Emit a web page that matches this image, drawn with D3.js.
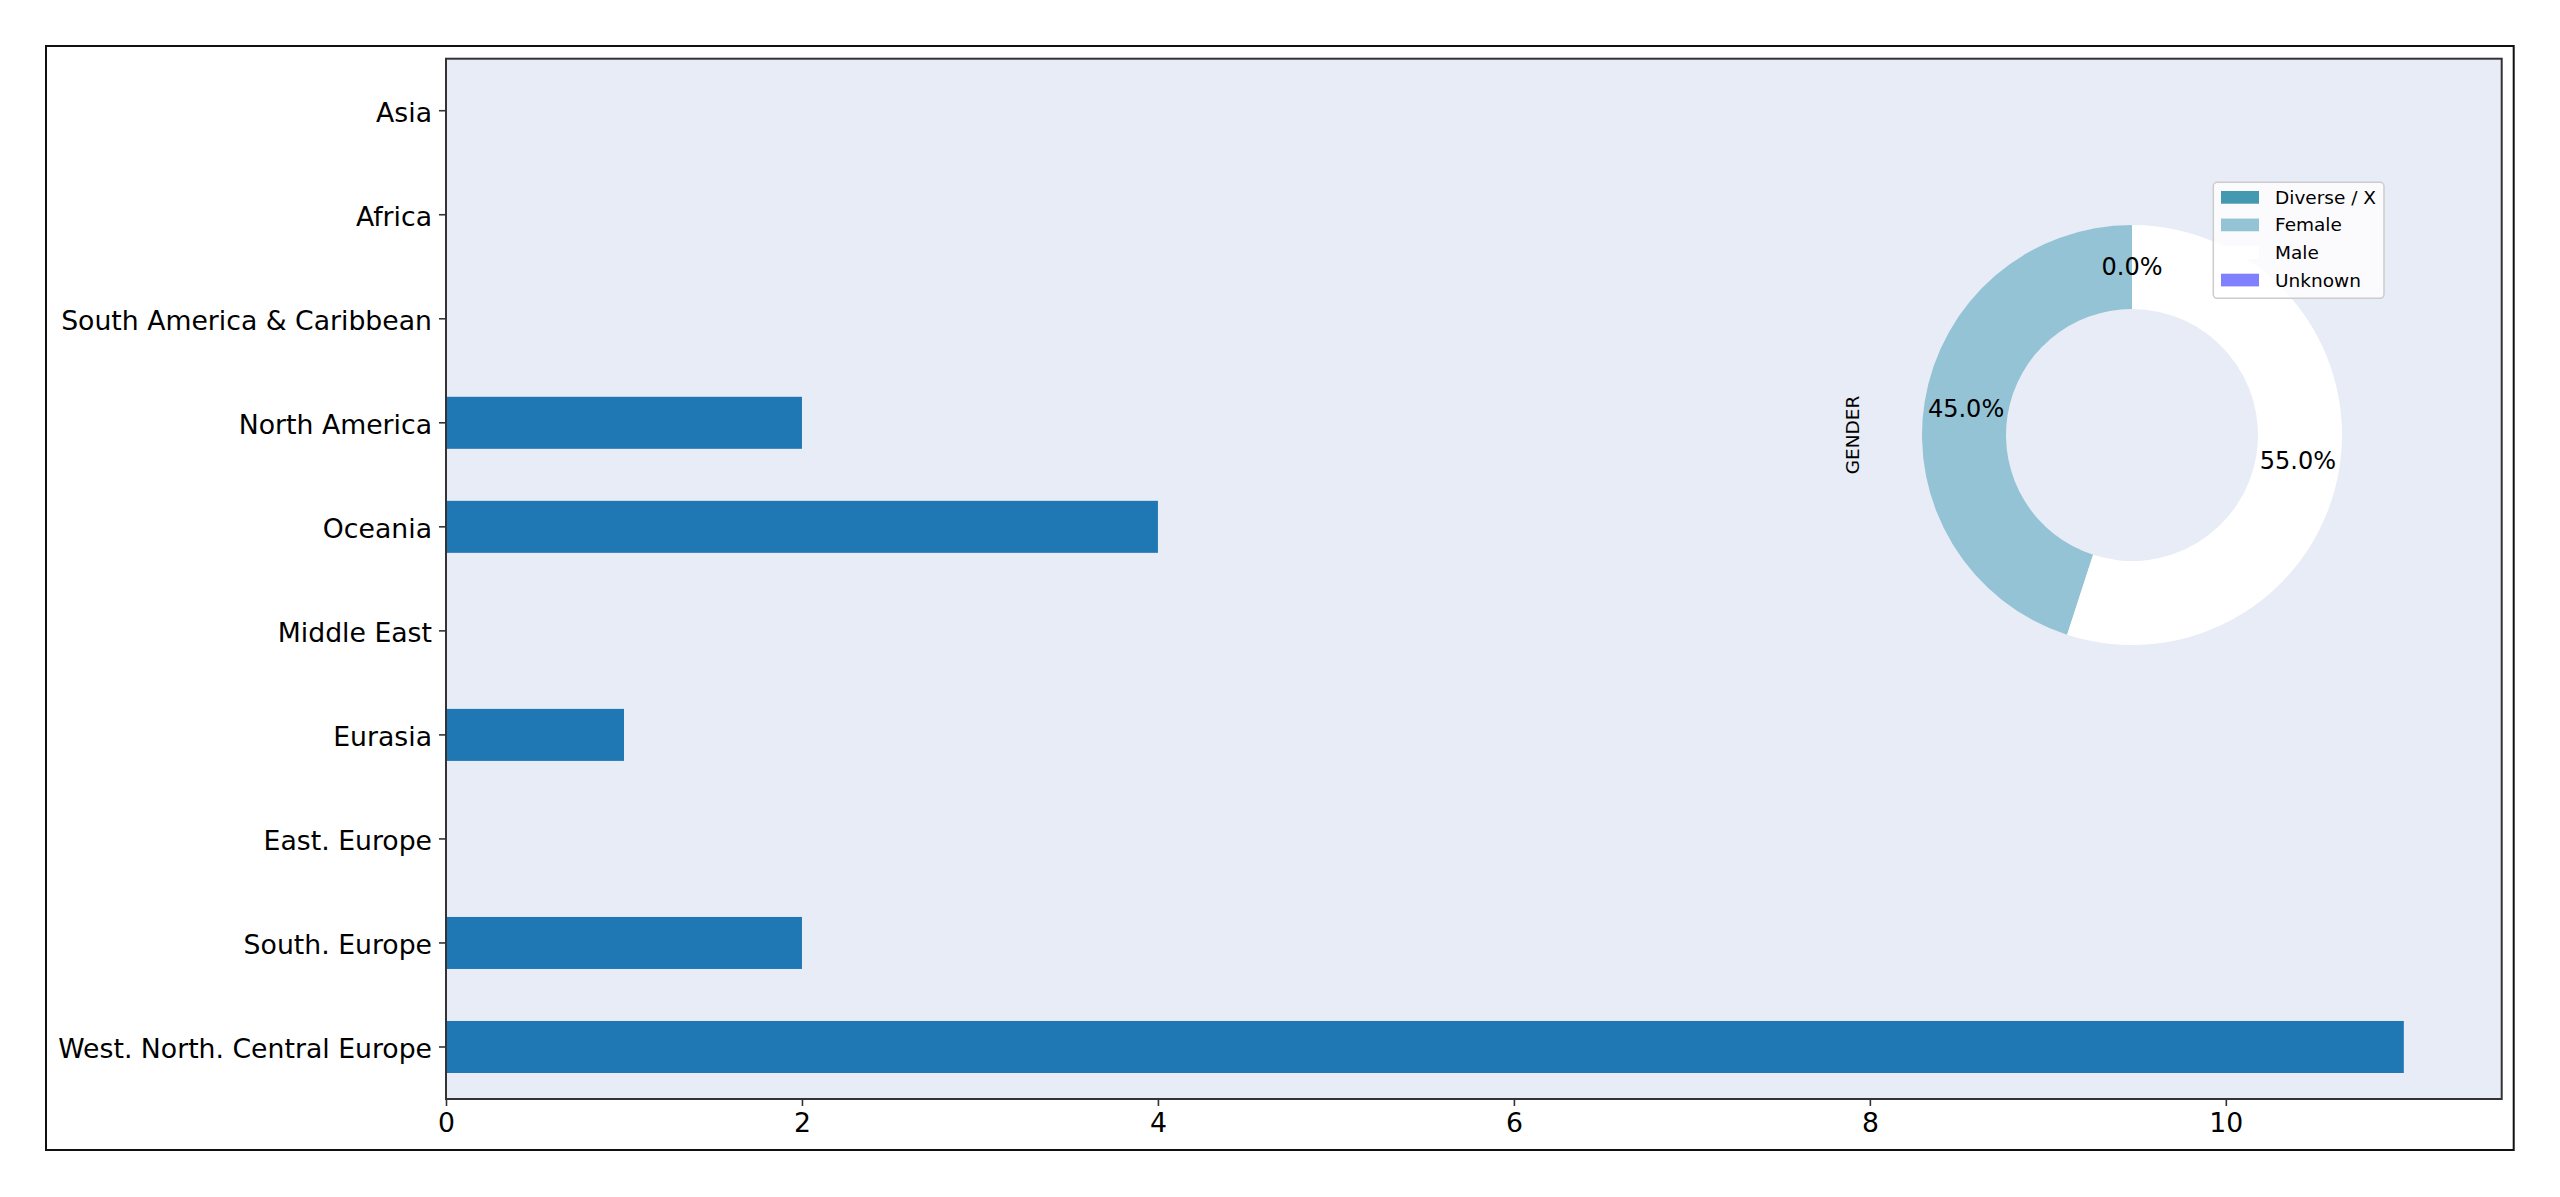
<!DOCTYPE html>
<html>
<head>
<meta charset="utf-8">
<script src="https://cdn.jsdelivr.net/npm/d3@7"></script>
<style>
  html, body { margin: 0; padding: 0; background: #ffffff; }
  svg { display: block; }
  text { font-family: "DejaVu Sans", sans-serif; fill: #000; }
</style>
</head>
<body>
<svg id="chart" width="2560" height="1197"></svg>
<script>
// ---------- data ----------
const regions = [
  "West. North. Central Europe", "South. Europe", "East. Europe", "Eurasia",
  "Middle East", "Oceania", "North America", "South America & Caribbean",
  "Africa", "Asia"
];
const regionCounts = [11, 2, 0, 1, 0, 4, 2, 0, 0, 0];
const xTicks = [0, 2, 4, 6, 8, 10];

const genders = ["Diverse / X", "Female", "Male", "Unknown"];
const genderShares = [0, 45, 55, 0];
const genderColors = ["#4499b0", "#93c3d5", "#ffffff", "#8080ff"];
const pieLabelled = ["Diverse / X", "Female", "Male"];
const pieTitle = "GENDER";

// ---------- layout ----------
const svg = d3.select("#chart");
const outer = {x: 46, y: 46, w: 2467.7, h: 1104};
const plot = {x: 446, y: 58.7, w: 2055.7, h: 1040.3};
const bg = "#e8ecf6";
const spine = "#333333";

svg.append("rect").attr("x", outer.x).attr("y", outer.y)
  .attr("width", outer.w).attr("height", outer.h)
  .attr("fill", "none").attr("stroke", "#111").attr("stroke-width", 2);

svg.append("rect").attr("x", plot.x).attr("y", plot.y)
  .attr("width", plot.w).attr("height", plot.h).attr("fill", bg);

const xMax = d3.max(regionCounts) * 1.05;
const x = d3.scaleLinear().domain([0, xMax]).range([plot.x, plot.x + plot.w]);
const y = d3.scaleBand().domain(regions.slice().reverse())
  .range([plot.y, plot.y + plot.h]).paddingInner(0.5).paddingOuter(0.25);

// bars
svg.append("g").selectAll("rect").data(regions.map((r, i) => ({r, v: regionCounts[i]})))
  .join("rect")
  .attr("x", x(0))
  .attr("y", d => y(d.r))
  .attr("width", d => x(d.v) - x(0))
  .attr("height", y.bandwidth())
  .attr("fill", "#1f77b4");

// axes
const fs = 26.7;
const xAxis = svg.append("g").attr("transform", `translate(0,${plot.y + plot.h})`)
  .call(d3.axisBottom(x).tickValues(xTicks).tickFormat(d3.format("d")).tickSize(7).tickPadding(7));
xAxis.select(".domain").remove();
xAxis.selectAll(".tick line").attr("stroke", spine).attr("stroke-width", 1.6);
xAxis.selectAll(".tick text").attr("font-size", fs).attr("fill", "#000")
  .attr("font-family", "DejaVu Sans");

const yAxis = svg.append("g").attr("transform", `translate(${plot.x},0)`)
  .call(d3.axisLeft(y).tickSize(7).tickPadding(7));
yAxis.select(".domain").remove();
yAxis.selectAll(".tick line").attr("stroke", spine).attr("stroke-width", 1.6);
yAxis.selectAll(".tick text").attr("font-size", fs).attr("fill", "#000")
  .attr("font-family", "DejaVu Sans").attr("dy", "0.42em");

// spines
svg.append("rect").attr("x", plot.x).attr("y", plot.y)
  .attr("width", plot.w).attr("height", plot.h)
  .attr("fill", "none").attr("stroke", spine).attr("stroke-width", 2);

// ---------- donut ----------
const cx = 2132, cy = 435, R = 210;
const pieG = svg.append("g").attr("transform", `translate(${cx},${cy})`);
const pie = d3.pie().sort(null).value(d => d.v).startAngle(0).endAngle(-2 * Math.PI);
const pieData = pie(genders.map((g, i) => ({g, v: genderShares[i], c: genderColors[i]})));
const arc = d3.arc().innerRadius(R * 0.6).outerRadius(R);
pieG.selectAll("path").data(pieData).join("path")
  .attr("d", arc).attr("fill", d => d.data.c);
const labelArc = d3.arc().innerRadius(R * 0.8).outerRadius(R * 0.8);
pieG.selectAll("text").data(pieData.filter(d => pieLabelled.includes(d.data.g))).join("text")
  .attr("transform", d => `translate(${labelArc.centroid(d)})`)
  .attr("text-anchor", "middle").attr("dominant-baseline", "central")
  .attr("font-size", 24)
  .text(d => d3.format(".1f")(d.data.v) + "%");

svg.append("text")
  .attr("transform", `translate(1852,${cy}) rotate(-90)`)
  .attr("text-anchor", "middle").attr("dominant-baseline", "central")
  .attr("font-size", 18.5).text(pieTitle);

// legend
const lg = svg.append("g");
lg.append("rect").attr("x", 2213.3).attr("y", 182.3).attr("width", 170.7).attr("height", 116)
  .attr("rx", 4).attr("fill", "#ffffff").attr("fill-opacity", 0.8)
  .attr("stroke", "#cccccc").attr("stroke-width", 1.5);
const rowY = d3.scaleLinear().domain([0, 3]).range([197.3, 280]);
genders.forEach((g, i) => {
  lg.append("rect").attr("x", 2221).attr("y", rowY(i) - 6.3)
    .attr("width", 38).attr("height", 12.7).attr("fill", genderColors[i]);
  lg.append("text").attr("x", 2275).attr("y", rowY(i))
    .attr("dominant-baseline", "central").attr("font-size", 18.5).text(g);
});
</script>
</body>
</html>
